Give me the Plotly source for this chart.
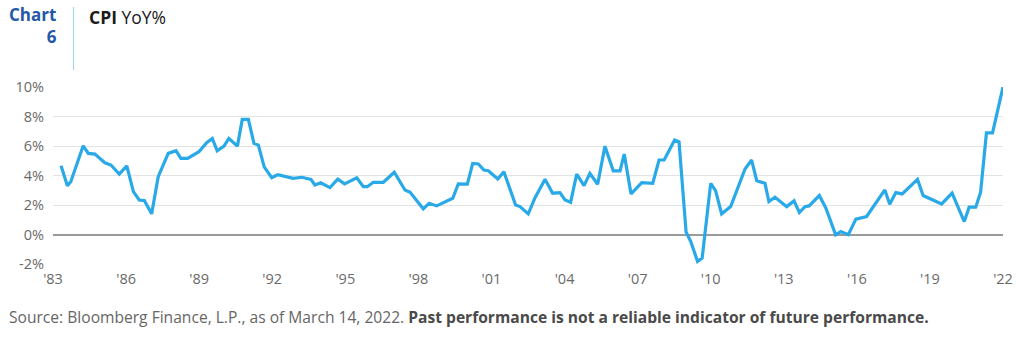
import plotly.graph_objects as go

# Vertex positions (decimal year) and CPI YoY % values
years = [1983.33, 1983.59, 1983.73, 1984.0, 1984.24, 1984.45, 1984.72, 1985.13, 1985.38, 1985.72,
         1986.03, 1986.3, 1986.54, 1986.75, 1987.05, 1987.32, 1987.73, 1988.05, 1988.25, 1988.53,
         1988.99, 1989.31, 1989.54, 1989.74, 1990.02, 1990.22, 1990.57, 1990.77, 1991.02, 1991.25,
         1991.43, 1991.67, 1991.98, 1992.22, 1992.86, 1993.21, 1993.59, 1993.75, 1993.99, 1994.37,
         1994.69, 1994.97, 1995.47, 1995.74, 1995.9, 1996.15, 1996.56, 1997.01, 1997.45, 1997.66,
         1998.2, 1998.44, 1998.75, 1999.41, 1999.64, 2000.01, 2000.23, 2000.46, 2000.69, 2000.87,
         2001.26, 2001.51, 2001.99, 2002.17, 2002.51, 2002.79, 2003.2, 2003.51, 2003.81, 2004.02,
         2004.25, 2004.5, 2004.8, 2005.04, 2005.36, 2005.66, 2006.0, 2006.28, 2006.45, 2006.73,
         2007.17, 2007.62, 2007.88, 2008.09, 2008.52, 2008.7, 2008.99, 2009.18, 2009.46, 2009.65,
         2010.0, 2010.2, 2010.45, 2010.82, 2011.41, 2011.68, 2011.89, 2012.23, 2012.39, 2012.64,
         2013.12, 2013.42, 2013.64, 2013.87, 2014.04, 2014.46, 2014.73, 2015.13, 2015.34, 2015.65,
         2015.96, 2016.4, 2017.15, 2017.35, 2017.6, 2017.86, 2018.49, 2018.72, 2019.48, 2019.91,
         2020.13, 2020.27, 2020.41, 2020.61, 2020.88, 2021.08, 2021.32, 2021.57, 2022.0]
cpi_yoy = [4.66, 3.31, 3.58, 4.93, 6.01, 5.5, 5.45, 4.86, 4.71, 4.1,
           4.66, 2.91, 2.34, 2.3, 1.4, 3.92, 5.5, 5.68, 5.16, 5.16,
           5.61, 6.22, 6.51, 5.68, 5.99, 6.51, 5.99, 7.8, 7.8, 6.18,
           6.06, 4.59, 3.85, 4.05, 3.81, 3.88, 3.74, 3.36, 3.51, 3.18,
           3.75, 3.43, 3.85, 3.24, 3.24, 3.54, 3.54, 4.22, 3.02, 2.86,
           1.74, 2.12, 1.94, 2.46, 3.43, 3.41, 4.82, 4.78, 4.37, 4.32,
           3.76, 4.26, 2.0, 1.89, 1.4, 2.5, 3.74, 2.8, 2.84, 2.34,
           2.19, 4.1, 3.31, 4.15, 3.41, 5.99, 4.32, 4.32, 5.45, 2.75,
           3.51, 3.47, 5.05, 5.05, 6.4, 6.28, 0.16, -0.47, -1.82, -1.6,
           3.47, 2.97, 1.4, 1.89, 4.44, 5.05, 3.65, 3.47, 2.23, 2.53,
           1.89, 2.28, 1.49, 1.89, 1.94, 2.64, 1.78, -0.02, 0.2, -0.02,
           1.04, 1.22, 3.02, 2.05, 2.84, 2.75, 3.74, 2.64, 2.07, 2.8,
           2.0, 1.4, 0.88, 1.85, 1.85, 2.86, 6.89, 6.89, 10.0]

x_tickvals = [1983, 1986, 1989, 1992, 1995, 1998, 2001, 2004, 2007, 2010, 2013, 2016, 2019, 2022]
x_ticktext = ["'83", "'86", "'89", "'92", "'95", "'98", "'01", "'04", "'07", "'10", "'13", "'16", "'19", "'22"]
y_tickvals = [-2, 0, 2, 4, 6, 8, 10]
y_ticktext = ["-2%", "0%", "2%", "4%", "6%", "8%", "10%"]

FONT = "Open Sans"
fig = go.Figure()
fig.add_trace(go.Scatter(x=years, y=cpi_yoy, mode="lines",
                         line=dict(color="#29a9e8", width=3.2), hoverinfo="skip"))

L, R, T, B = 53, 21, 87, 75
W, H = 1024, 339
pw, ph = W - L - R, H - T - B


def px(xp):
    return (xp - L) / pw


def py(yp):
    return (H - B - yp) / ph


fig.update_layout(
    width=W, height=H,
    margin=dict(l=L, r=R, t=T, b=B),
    paper_bgcolor="white", plot_bgcolor="white",
    showlegend=False,
    font=dict(family=FONT, color="#666666", size=14),
    xaxis=dict(range=[1983, 2022], tickvals=x_tickvals, ticktext=x_ticktext,
               showgrid=False, zeroline=False, showline=False, ticks="",
               ticklabelstandoff=4, tickfont=dict(size=14.5, color="#6a6a6a")),
    yaxis=dict(range=[-2, 10], tickvals=y_tickvals, ticktext=y_ticktext,
               showgrid=True, gridcolor="#e3e3e3", gridwidth=1,
               zeroline=True, zerolinecolor="#9a9a9a", zerolinewidth=1.5,
               showline=False, ticks="", ticklabelstandoff=8,
               tickfont=dict(size=14.5, color="#6a6a6a")),
)

# Header
fig.add_annotation(xref="paper", yref="paper", x=px(59), y=py(26), xanchor="right", yanchor="middle",
                   text="<b>Chart</b><br><b>6</b>", align="right", showarrow=False,
                   font=dict(family=FONT, size=17, color="#2457a8"))
fig.add_shape(type="line", xref="paper", yref="paper", x0=px(73.5), x1=px(73.5), y0=py(7), y1=py(70),
              line=dict(color="#a9d5f0", width=1.2))
fig.add_annotation(xref="paper", yref="paper", x=px(87), y=py(17), xanchor="left", yanchor="middle",
                   text="<b>CPI</b> YoY%", showarrow=False,
                   font=dict(family=FONT, size=17.5, color="#1a1a1a"))

# Source
fig.add_annotation(xref="paper", yref="paper", x=px(7), y=py(317), xanchor="left", yanchor="middle",
                   text="Source: Bloomberg Finance, L.P., as of March 14, 2022. "
                        "<b><span style='color:#4a4a4a'>Past performance is not a reliable indicator of future performance.</span></b>",
                   showarrow=False, font=dict(family=FONT, size=15.6, color="#666666"))

fig.write_html("out.html")
